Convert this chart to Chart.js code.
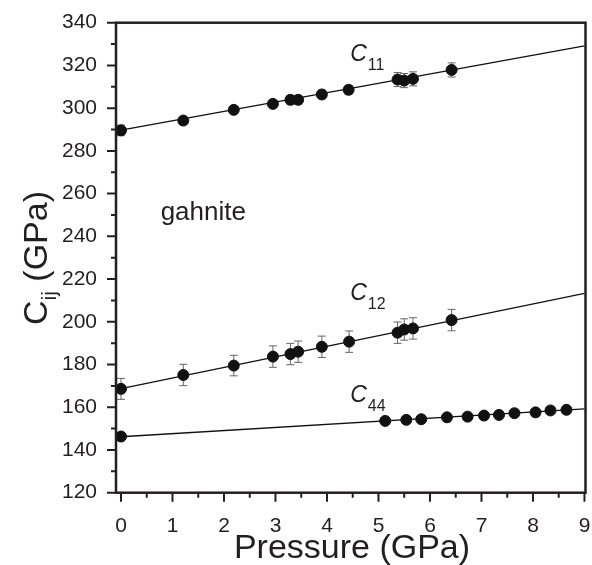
<!DOCTYPE html>
<html><head><meta charset="utf-8">
<script src="https://cdn.jsdelivr.net/npm/chart.js@4.4.1/dist/chart.umd.min.js"></script>
<style>html,body{margin:0;padding:0;background:#fff;} #wrap{width:592px;height:565px;}</style>
</head><body><div id="wrap"><canvas id="c" width="592" height="565"></canvas></div>
<script>
// ---- data ----
const pressureC11 = [0, 1.21, 2.19, 2.95, 3.29, 3.44, 3.90, 4.42, 5.37, 5.50, 5.67, 6.42];
const valuesC11   = [289.6, 294.2, 299.2, 302.0, 303.9, 303.9, 306.4, 308.6, 313.4, 312.9, 313.7, 317.9];
const errorsC11   = [2.5, 1.5, 1.5, 1.5, 2, 2, 2, 2, 3.3, 3.3, 3.3, 3.3];

const pressureC12 = [0, 1.21, 2.19, 2.95, 3.29, 3.44, 3.90, 4.43, 5.37, 5.50, 5.67, 6.42];
const valuesC12   = [168.6, 175.1, 179.5, 183.7, 184.9, 186.0, 188.3, 190.7, 194.9, 196.4, 196.9, 200.8];
const errorsC12   = [4.9, 5, 4.8, 5, 5, 5, 5, 5, 5, 5, 5, 5];

const pressureC44 = [0, 5.13, 5.54, 5.83, 6.33, 6.73, 7.05, 7.34, 7.64, 8.05, 8.34, 8.65];
const valuesC44   = [146.3, 153.6, 154.1, 154.4, 155.3, 155.6, 156.1, 156.4, 157.2, 157.6, 158.5, 158.8];
const errorsC44   = [1.5, 1.5, 1.5, 1.5, 1.5, 1.5, 1.5, 1.5, 1.5, 1.5, 1.5, 1.5];

const fitPressure = [0, 9];
const fitC11 = [289.7, 329.2];
const fitC12 = [168.7, 213.3];
const fitC44 = [146.2, 159.2];

const xTickValues = [0, 1, 2, 3, 4, 5, 6, 7, 8, 9];
const yTickValues = [120, 140, 160, 180, 200, 220, 240, 260, 280, 300, 320, 340];

const seriesLabels = ['11', '12', '44'];
const sampleName = 'gahnite';
const xTitle = 'Pressure (GPa)';

// ---- drawing ----
const INK = '#231f20';
const FONT = '"Liberation Sans", Arial, sans-serif';
const pts = (xs, ys) => xs.map((x, i) => ({x: x, y: ys[i]}));

const series = [
  {p: pressureC11, v: valuesC11, e: errorsC11},
  {p: pressureC12, v: valuesC12, e: errorsC12},
  {p: pressureC44, v: valuesC44, e: errorsC44}
];

const pointDs = (xs, ys) => ({type: 'scatter', data: pts(xs, ys), backgroundColor: '#111', borderColor: '#111',
  pointRadius: 5.5, pointHoverRadius: 5.5, showLine: false, order: 1});
const lineDs = (ys) => ({type: 'line', data: pts(fitPressure, ys), borderColor: '#111', borderWidth: 1.3,
  pointRadius: 0, fill: false, tension: 0, order: 2});

const decor = {
  id: 'decor',
  beforeDatasetsDraw(chart) {
    const {ctx, scales: {x, y}} = chart;
    ctx.save();
    ctx.strokeStyle = '#666';
    ctx.lineWidth = 1;
    series.forEach(s => {
      s.p.forEach((pv, i) => {
        const px = x.getPixelForValue(pv);
        const yt = y.getPixelForValue(s.v[i] + s.e[i]);
        const yb = y.getPixelForValue(s.v[i] - s.e[i]);
        ctx.beginPath();
        ctx.moveTo(px, yt); ctx.lineTo(px, yb);
        ctx.moveTo(px - 4, yt); ctx.lineTo(px + 4, yt);
        ctx.moveTo(px - 4, yb); ctx.lineTo(px + 4, yb);
        ctx.stroke();
      });
    });
    ctx.restore();
  },
  afterDraw(chart) {
    const {ctx, chartArea: a, scales: {x, y}} = chart;
    ctx.save();
    // frame
    ctx.strokeStyle = INK;
    ctx.lineWidth = 2.5;
    ctx.strokeRect(a.left, a.top, a.right - a.left, a.bottom - a.top);
    // ticks
    ctx.lineWidth = 2;
    ctx.beginPath();
    for (let v = 0; v <= 9.001; v += 0.5) {
      const px = x.getPixelForValue(v);
      const major = Math.abs(v - Math.round(v)) < 1e-6;
      ctx.moveTo(px, a.bottom); ctx.lineTo(px, a.bottom + (major ? 9 : 5));
    }
    for (let v = 120; v <= 340.001; v += 10) {
      const py = y.getPixelForValue(v);
      const major = v % 20 === 0;
      ctx.moveTo(a.left, py); ctx.lineTo(a.left - (major ? 9 : 5), py);
    }
    ctx.stroke();

    ctx.fillStyle = INK;
    ctx.textBaseline = 'alphabetic';
    // series labels C11, C12, C44
    const labelPos = [[4.45, 322], [4.45, 210.2], [4.45, 162.6]];
    seriesLabels.forEach((lab, i) => {
      const px = x.getPixelForValue(labelPos[i][0]);
      const py = y.getPixelForValue(labelPos[i][1]);
      ctx.font = 'italic 23px ' + FONT;
      ctx.textAlign = 'left';
      ctx.fillText('C', px, py);
      const w = ctx.measureText('C').width;
      ctx.font = '16px ' + FONT;
      ctx.fillText(lab, px + w + 1, py + 9);
    });
    // sample name
    ctx.font = '26px ' + FONT;
    ctx.fillText(sampleName, x.getPixelForValue(0.77), y.getPixelForValue(247.6));

    // x title
    ctx.font = '34px ' + FONT;
    ctx.textAlign = 'center';
    ctx.fillText(xTitle, 352, 558);

    // y title: C_ij (GPa)
    ctx.translate(47, 258);
    ctx.rotate(-Math.PI / 2);
    ctx.font = '34px ' + FONT;
    const wC = ctx.measureText('C').width;
    const wRest = ctx.measureText(' (GPa)').width;
    ctx.font = '21px ' + FONT;
    const wSub = ctx.measureText('ij').width;
    const total = wC + wSub + wRest;
    let cx = -total / 2;
    ctx.textAlign = 'left';
    ctx.font = '34px ' + FONT;
    ctx.fillText('C', cx, 0); cx += wC;
    ctx.font = '21px ' + FONT;
    ctx.fillText('ij', cx, 9); cx += wSub;
    ctx.font = '34px ' + FONT;
    ctx.fillText(' (GPa)', cx, 0);
    ctx.restore();
  }
};

new Chart(document.getElementById('c'), {
  type: 'scatter',
  data: {
    datasets: [
      pointDs(pressureC11, valuesC11),
      pointDs(pressureC12, valuesC12),
      pointDs(pressureC44, valuesC44),
      lineDs(fitC11),
      lineDs(fitC12),
      lineDs(fitC44)
    ]
  },
  options: {
    responsive: false,
    animation: false,
    events: [],
    plugins: {legend: {display: false}, tooltip: {enabled: false}},
    layout: {padding: {top: 22.7, right: 6.5, left: 0, bottom: 0}},
    scales: {
      x: {
        type: 'linear', min: -0.097, max: 9.02,
        afterFit(s) { s.height = 72.3; s.paddingLeft = 0; s.paddingRight = 0; },
        afterBuildTicks(s) { s.ticks = xTickValues.map(v => ({value: v})); },
        grid: {display: false}, border: {display: false},
        ticks: {font: {family: FONT, size: 21}, color: INK, padding: 13, maxRotation: 0, autoSkip: false}
      },
      y: {
        type: 'linear', min: 120, max: 340,
        afterFit(s) { s.width = 116; s.paddingTop = 0; s.paddingBottom = 0; },
        afterBuildTicks(s) { s.ticks = yTickValues.map(v => ({value: v})); },
        grid: {display: false}, border: {display: false},
        ticks: {font: {family: FONT, size: 21}, color: INK, padding: 11, autoSkip: false}
      }
    }
  },
  plugins: [decor]
});
</script></body></html>
